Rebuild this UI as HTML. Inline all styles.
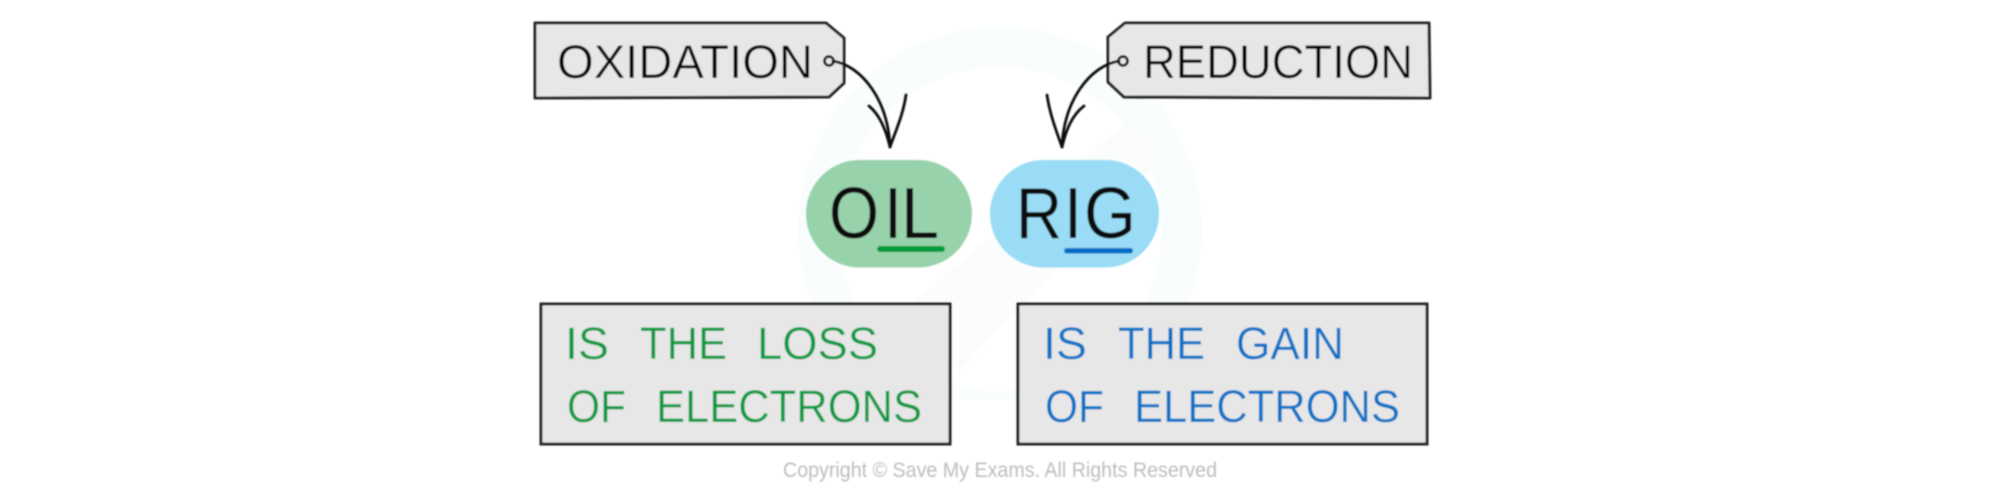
<!DOCTYPE html>
<html>
<head>
<meta charset="utf-8">
<style>
html,body{margin:0;padding:0;background:#fff;width:2000px;height:493px;overflow:hidden}
svg{display:block;position:absolute;left:0;top:0}
text{font-family:"Liberation Sans",sans-serif}
</style>
</head>
<body>
<svg width="2000" height="493" viewBox="0 0 2000 493" xmlns="http://www.w3.org/2000/svg">
<defs>
<filter id="b" x="-2%" y="-2%" width="104%" height="104%"><feGaussianBlur stdDeviation="0.7"/></filter>
<clipPath id="c"><rect x="700" y="0" width="600" height="400"/></clipPath>
</defs>
<rect width="2000" height="493" fill="#fff"/>
<g clip-path="url(#c)">
<circle cx="1000" cy="229" r="182" fill="none" stroke="#fafdfe" stroke-width="40"/>
<path d="M880 330 L1130 120 L1170 150 L960 370 Z" fill="#fbfcfc"/>
</g>
<g filter="url(#b)">
<path d="M535 23 L826 23 L844 38 L844 83 L829 97 L535 98 Z" fill="#e7e7e7" stroke="#222" stroke-width="3" stroke-linejoin="round"/>
<text x="557" y="78" font-size="47" fill="#000" stroke="#e7e7e7" stroke-width="0.3" textLength="256" lengthAdjust="spacingAndGlyphs">OXIDATION</text>
<circle cx="829" cy="61" r="4.5" fill="none" stroke="#111" stroke-width="2.8"/>
<path d="M833 61 C862 66 888 100 890 147" fill="none" stroke="#111" stroke-width="2.8" stroke-linecap="round"/>
<path d="M869 106 C880 115 886 130 890 147 C896 130 903 115 906 95" fill="none" stroke="#111" stroke-width="2.8" stroke-linecap="round" stroke-linejoin="round"/>

<path d="M1125 23 L1429 23 L1430 98 L1124 97 L1108 82 L1108 37 Z" fill="#e7e7e7" stroke="#222" stroke-width="3" stroke-linejoin="round"/>
<text x="1143" y="78" font-size="47" fill="#000" stroke="#e7e7e7" stroke-width="0.3" textLength="270" lengthAdjust="spacingAndGlyphs">REDUCTION</text>
<circle cx="1123" cy="61" r="4.5" fill="none" stroke="#111" stroke-width="2.8"/>
<path d="M1119 61 C1090 66 1064 100 1062 147" fill="none" stroke="#111" stroke-width="2.8" stroke-linecap="round"/>
<path d="M1084 106 C1072 115 1066 130 1062 147 C1056 130 1050 115 1047 95" fill="none" stroke="#111" stroke-width="2.8" stroke-linecap="round" stroke-linejoin="round"/>

<rect x="806" y="160" width="166" height="107.500" rx="53.700" fill="#97d2ab"/>
<rect x="990" y="160" width="169" height="107.500" rx="53.700" fill="#9adcf5"/>
<text x="829" y="238" font-size="72" fill="#0a0a0a" textLength="50" lengthAdjust="spacingAndGlyphs">O</text>
<text x="884" y="238" font-size="72" fill="#0a0a0a" textLength="18" lengthAdjust="spacingAndGlyphs">I</text>
<text x="901" y="238" font-size="72" fill="#0a0a0a" textLength="38" lengthAdjust="spacingAndGlyphs">L</text>
<rect x="877" y="246" width="68" height="6" rx="3" fill="#009b3a"/>
<text x="1016" y="238" font-size="72" fill="#0a0a0a" textLength="46" lengthAdjust="spacingAndGlyphs">R</text>
<text x="1064" y="238" font-size="72" fill="#0a0a0a" textLength="18" lengthAdjust="spacingAndGlyphs">I</text>
<text x="1084" y="238" font-size="72" fill="#0a0a0a" textLength="52" lengthAdjust="spacingAndGlyphs">G</text>
<rect x="1064" y="248" width="69" height="5.500" rx="2.700" fill="#0070c8"/>

<rect x="541" y="304" width="409" height="140" fill="#e7e7e7" stroke="#222" stroke-width="3"/>
<g font-size="45" fill="#009a42" stroke="#e7e7e7" stroke-width="0.2">
<text x="565" y="359" textLength="44" lengthAdjust="spacingAndGlyphs">IS</text>
<text x="640" y="359" textLength="87" lengthAdjust="spacingAndGlyphs">THE</text>
<text x="757" y="359" textLength="121" lengthAdjust="spacingAndGlyphs">LOSS</text>
<text x="567" y="422" textLength="59" lengthAdjust="spacingAndGlyphs">OF</text>
<text x="656" y="422" textLength="266" lengthAdjust="spacingAndGlyphs">ELECTRONS</text>
</g>

<rect x="1018" y="304" width="409" height="140" fill="#e7e7e7" stroke="#222" stroke-width="3"/>
<g font-size="45" fill="#0072c6" stroke="#e7e7e7" stroke-width="0.2">
<text x="1043" y="359" textLength="44" lengthAdjust="spacingAndGlyphs">IS</text>
<text x="1118" y="359" textLength="87" lengthAdjust="spacingAndGlyphs">THE</text>
<text x="1236" y="359" textLength="108" lengthAdjust="spacingAndGlyphs">GAIN</text>
<text x="1045" y="422" textLength="59" lengthAdjust="spacingAndGlyphs">OF</text>
<text x="1134" y="422" textLength="266" lengthAdjust="spacingAndGlyphs">ELECTRONS</text>
</g>

<text x="783" y="477" font-size="21" fill="#bdbdbd" textLength="434" lengthAdjust="spacingAndGlyphs">Copyright © Save My Exams. All Rights Reserved</text>
</g>
</svg>
</body>
</html>
